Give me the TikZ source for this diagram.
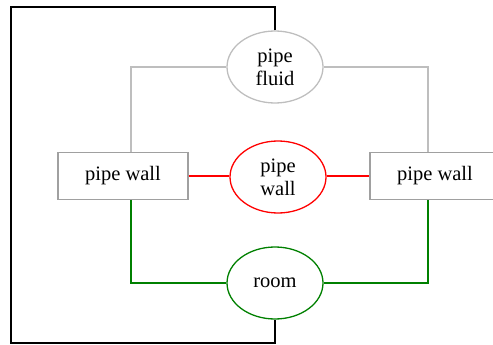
\documentclass[tikz,border=0pt]{standalone}
\usepackage{fontspec}
\setmainfont{Liberation Serif}
\usepackage{xcolor}
\usepackage{tikz}
\usetikzlibrary{positioning, shapes.geometric, calc}
\definecolor{linkgray}{HTML}{BEBEBE}
\definecolor{boxgray}{HTML}{A0A0A0}
\definecolor{linkred}{HTML}{FF0000}
\definecolor{linkgreen}{HTML}{008000}

\begin{document}
\begin{tikzpicture}[
      x=1pt, y=-1pt,
      every node/.style={font=\fontsize{20.5}{23}\selectfont, align=center},
      wallbox/.style={draw=boxgray, line width=1.3pt, minimum width=130pt, minimum height=47pt, inner sep=0pt},
      zone/.style={ellipse, line width=1.3pt, minimum width=96pt, minimum height=72pt, inner sep=0pt},
      grayline/.style={linkgray, line width=1.3pt},
      redline/.style={linkred, line width=1.3pt},
      greenline/.style={linkgreen, line width=1.3pt},
      loopline/.style={black, line width=1.4pt},
    ]
      \useasboundingbox (0,0) rectangle (493,345);

      \node[zone, draw=linkgray] (fluid) at (275,67) {pipe\\fluid};
      \node[zone, draw=linkred] (wall) at (278,177) {pipe\\wall};
      \node[zone, draw=linkgreen] (room) at (275,283) {room};
      \node[wallbox] (lwall) at (123,176) {pipe wall};
      \node[wallbox] (rwall) at (435,176) {pipe wall};

      \coordinate (tl) at (11,7);
      \coordinate (bl) at (11,343);

      % outer loop
      \draw[loopline] (fluid.north) |- (tl) -- (bl) -| (room.south);

      \draw[grayline] (fluid.west) -| ([xshift=8pt]lwall.north);
      \draw[grayline] (fluid.east) -| ([xshift=-7pt]rwall.north);
      \draw[redline] (lwall.east) -- (lwall.east -| wall.west);
      \draw[redline] (rwall.west -| wall.east) -- (rwall.west);
      \draw[greenline] (room.west) -| ([xshift=8pt]lwall.south);
      \draw[greenline] (room.east) -| ([xshift=-7pt]rwall.south);
    \end{tikzpicture}
\end{document}
